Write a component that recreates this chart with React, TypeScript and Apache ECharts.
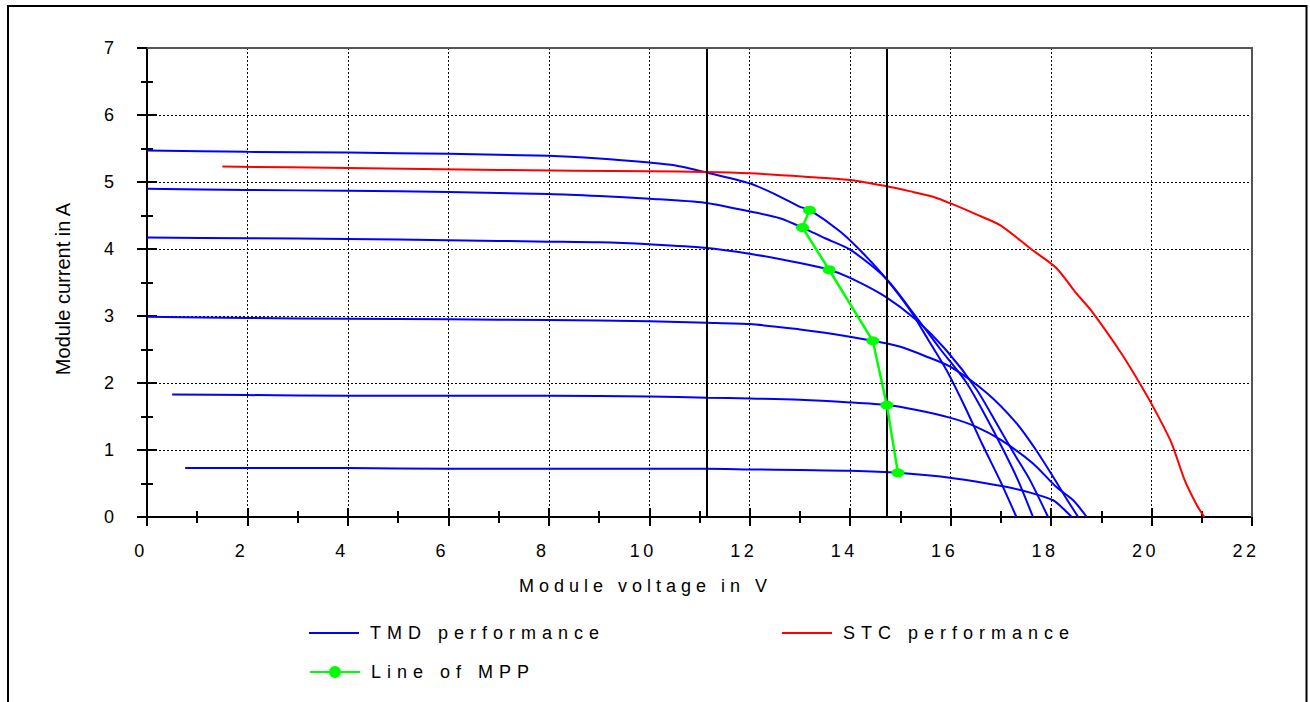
import React, { useEffect, useRef } from 'react';
import * as echarts from 'echarts';

type Pt = [number, number];

// TMD performance curves (voltage V, current A)
const tmd1: Pt[] = [[0,5.47],[2,5.45],[4,5.44],[6,5.42],[8,5.39],[9,5.35],[10,5.29],[10.5,5.25],[11.1,5.15],[12,4.98],[12.5,4.82],[13.0,4.63],[13.2,4.58],[13.8,4.26],[14.25,3.94],[14.7,3.57],[15.19,3.09],[15.55,2.65],[15.92,2.19],[16.3,1.62],[16.62,1.1],[16.98,0.55],[17.31,0]];
const tmd2: Pt[] = [[0,4.9],[2,4.88],[4,4.87],[6,4.85],[8,4.82],[9,4.79],[10,4.75],[11.1,4.69],[12,4.56],[12.6,4.46],[13.05,4.32],[13.5,4.16],[14.0,3.99],[14.7,3.57],[15.3,3.0],[15.8,2.5],[16.32,2.0],[16.7,1.5],[17.05,1.0],[17.34,0.55],[17.64,0]];
const tmd3: Pt[] = [[0,4.17],[2,4.16],[4,4.15],[6,4.13],[8,4.11],[9,4.1],[10,4.07],[11.1,4.02],[12,3.93],[13,3.79],[13.58,3.69],[14,3.57],[14.7,3.29],[15.3,2.95],[15.9,2.5],[16.52,1.9],[16.95,1.35],[17.3,0.9],[17.58,0.55],[17.94,0]];
const tmd4: Pt[] = [[0,2.99],[2,2.97],[4,2.96],[6,2.95],[8,2.94],[10,2.92],[11.15,2.9],[12,2.88],[13,2.8],[13.5,2.75],[14.45,2.63],[15,2.54],[15.5,2.4],[16,2.24],[16.72,1.85],[17.31,1.4],[17.7,1.0],[18.04,0.6],[18.3,0.28],[18.54,0]];
const tmd5: Pt[] = [[0.5,1.83],[2,1.82],[4,1.81],[6,1.81],[8,1.81],[10,1.8],[11.15,1.78],[12,1.77],[13,1.75],[14,1.71],[14.73,1.67],[15.3,1.6],[16,1.48],[16.5,1.35],[17,1.15],[17.64,0.8],[18.1,0.45],[18.44,0.25],[18.71,0]];
const tmd6: Pt[] = [[0.76,0.73],[2,0.73],[4,0.73],[6,0.72],[8,0.72],[10,0.72],[11.15,0.72],[12,0.71],[13,0.7],[14,0.69],[14.95,0.66],[16.05,0.58],[17.1,0.45],[17.6,0.36],[18.04,0.25],[18.25,0.12],[18.41,0]];

// STC performance curve
const stc: Pt[] = [[1.5,5.23],[4,5.21],[7,5.18],[10,5.16],[11.1,5.15],[12,5.13],[13.1,5.08],[14,5.03],[14.7,4.94],[15.2,4.86],[15.65,4.78],[16,4.68],[16.5,4.52],[17,4.35],[17.6,4.0],[18.1,3.72],[18.5,3.34],[18.8,3.08],[19.4,2.44],[19.8,1.95],[20.1,1.55],[20.4,1.1],[20.66,0.55],[20.9,0.18],[21.05,0]];

// Line of maximum power points
const mpp: Pt[] = [[13.19,4.58],[13.05,4.32],[13.58,3.69],[14.45,2.63],[14.73,1.67],[14.95,0.66]];

// Vertical reference lines (V)
const refVoltages = [11.15, 14.73];

const xMin = 0, xMax = 22, xStep = 2;
const yMin = 0, yMax = 7, yStep = 1;

const tmdCurves = [tmd1, tmd2, tmd3, tmd4, tmd5, tmd6];

const css = `
svg text[style*="sp4"]{letter-spacing:3.5px}
svg text[style*="sp5"]{letter-spacing:5px}
svg text[style*="sp6"]{letter-spacing:6px}
`;

const BLUE = '#0000ff';
const RED = '#ff0000';
const GREEN = '#00ff00';

const legendText = { fontSize: 18, fontFamily: 'Liberation Sans, sp6', color: '#000', padding: [0, 0, 0, 6] };

function buildOption(): any {
  const gridLeft = 147, gridTop = 48, gridW = 1105, gridH = 469;
  const baseX = { type: 'value', min: xMin, max: xMax, interval: xStep, gridIndex: 0 };
  const baseY = { type: 'value', min: yMin, max: yMax, interval: yStep, gridIndex: 0 };
  const tick = { color: '#000', width: 2 };
  return {
    animation: false,
    backgroundColor: '#fff',
    grid: { left: gridLeft, top: gridTop, width: gridW, height: gridH, show: false },
    xAxis: [
      {
        ...baseX, position: 'bottom',
        axisLine: { show: true, onZero: false, lineStyle: { color: '#000', width: 2 } },
        axisTick: { show: true, inside: false, length: 9, lineStyle: tick },
        minorTick: { show: true, splitNumber: 2, length: 6, lineStyle: tick },
        axisLabel: {
          show: true, color: '#000', fontSize: 18, fontFamily: 'Liberation Sans, sp4',
          margin: 25, padding: [0, 12, 0, 0],
        },
        splitLine: { show: true, lineStyle: { color: '#000', width: 1, type: [2, 2] } },
      },
      {
        ...baseX, position: 'bottom',
        axisLine: { show: false, onZero: false },
        axisTick: { show: true, inside: true, length: 9, lineStyle: tick },
        minorTick: { show: true, splitNumber: 2, length: 6, lineStyle: tick },
        axisLabel: { show: false },
        splitLine: { show: false },
      },
    ],
    yAxis: [
      {
        ...baseY, position: 'left',
        axisLine: { show: true, onZero: false, lineStyle: { color: '#000', width: 2 } },
        axisTick: { show: true, inside: false, length: 10, lineStyle: tick },
        minorTick: { show: true, splitNumber: 2, length: 6, lineStyle: tick },
        axisLabel: { show: true, color: '#000', fontSize: 18, fontFamily: 'Arial', margin: 33 },
        splitLine: { show: true, lineStyle: { color: '#000', width: 1, type: [2, 2] } },
      },
      {
        ...baseY, position: 'left',
        axisLine: { show: false, onZero: false },
        axisTick: { show: true, inside: true, length: 10, lineStyle: tick },
        minorTick: { show: true, splitNumber: 2, length: 6, lineStyle: tick },
        axisLabel: { show: false },
        splitLine: { show: false },
      },
    ],
    legend: [
      {
        data: [{ name: 'TMD performance', icon: 'rect' }],
        orient: 'vertical', left: 309, top: 624, padding: 0,
        itemWidth: 50, itemHeight: 2, selectedMode: false, textStyle: legendText,
      },
      {
        data: [{ name: 'STC performance', icon: 'rect' }],
        orient: 'vertical', left: 782, top: 624, padding: 0,
        itemWidth: 50, itemHeight: 2, selectedMode: false, textStyle: legendText,
      },
      {
        data: ['Line of MPP'],
        orient: 'vertical', left: 309, top: 663, padding: 0,
        itemWidth: 50, itemHeight: 15, selectedMode: false, textStyle: legendText,
      },
    ],
    graphic: [
      {
        type: 'rect', silent: true, z: 100,
        shape: { x: 8, y: 6, width: 1298.5, height: 720 },
        style: { fill: 'none', stroke: '#000', lineWidth: 2 },
      },
      {
        type: 'polyline', silent: true, z: 100,
        shape: { points: [[gridLeft, gridTop], [gridLeft + gridW, gridTop], [gridLeft + gridW, gridTop + gridH]] },
        style: { fill: 'none', stroke: '#555', lineWidth: 2 },
      },
      {
        type: 'text', silent: true, z: 100,
        x: 63, y: 289, rotation: Math.PI / 2,
        style: {
          text: 'Module current in A', fontSize: 20, fontFamily: 'Arial', fill: '#000',
          align: 'center', verticalAlign: 'middle',
        },
      },
      {
        type: 'text', silent: true, z: 100,
        x: 519, y: 586,
        style: {
          text: 'Module voltage in V', fontSize: 18, fontFamily: 'Liberation Sans, sp5', fill: '#000',
          align: 'left', verticalAlign: 'middle',
        },
      },
    ],
    series: [
      ...tmdCurves.map((d) => ({
        type: 'line', name: 'TMD performance', data: d,
        xAxisIndex: 0, yAxisIndex: 0,
        showSymbol: false, symbol: 'none', smooth: 0.25,
        lineStyle: { color: BLUE, width: 2 }, itemStyle: { color: BLUE },
        silent: true, z: 2,
      })),
      {
        type: 'line', name: 'STC performance', data: stc,
        xAxisIndex: 0, yAxisIndex: 0,
        showSymbol: false, symbol: 'none', smooth: 0.25,
        lineStyle: { color: RED, width: 2 }, itemStyle: { color: RED },
        silent: true, z: 3,
      },
      {
        type: 'line', name: 'Line of MPP', data: mpp,
        xAxisIndex: 0, yAxisIndex: 0,
        symbol: 'circle', symbolSize: [13, 9], showSymbol: true,
        lineStyle: { color: GREEN, width: 2.5 }, itemStyle: { color: GREEN },
        silent: true, z: 5,
        markLine: {
          silent: true, symbol: 'none', label: { show: false },
          lineStyle: { color: '#000', width: 2, type: 'solid' },
          data: refVoltages.map((v) => ({ xAxis: v })),
        },
      },
    ],
  };
}

export default function App() {
  const ref = useRef<HTMLDivElement>(null);
  useEffect(() => {
    document.body.style.margin = '0';
    const chart = echarts.init(ref.current!, null, { renderer: 'svg' });
    chart.setOption(buildOption());
    return () => chart.dispose();
  }, []);
  return (
    <>
      <style>{css}</style>
      <div ref={ref} style={{ width: 1310, height: 702 }} />
    </>
  );
}
